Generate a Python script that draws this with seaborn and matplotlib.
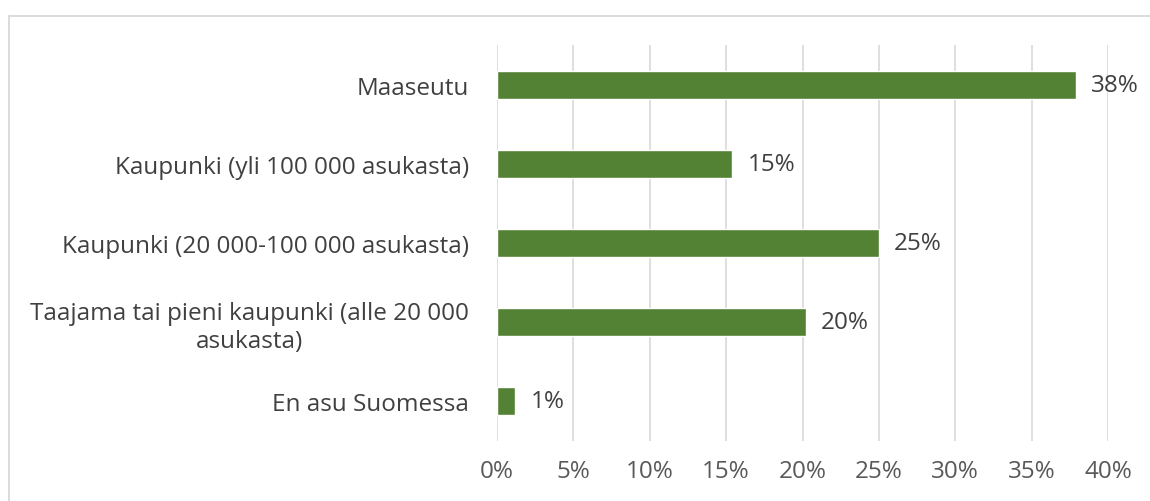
import matplotlib.pyplot as plt
import matplotlib.patches as mpatches
import seaborn as sns
import pandas as pd

sns.set_theme(style="white")
plt.rcParams['font.family'] = ['Open Sans', 'DejaVu Sans']

categories = ['Maaseutu',
              'Kaupunki (yli 100 000 asukasta)',
              'Kaupunki (20 000-100 000 asukasta)',
              'Taajama tai pieni kaupunki (alle 20 000\nasukasta)',
              'En asu Suomessa']
values = [37.9, 15.4, 25.0, 20.2, 1.2]
value_labels = ['38%', '15%', '25%', '20%', '1%']
xticks = [0, 5, 10, 15, 20, 25, 30, 35, 40]

df = pd.DataFrame({'cat': categories, 'val': values})

fig = plt.figure(figsize=(11.5, 5.02), dpi=100)
ax = fig.add_axes([0.4322, 0.1205, 0.9635 - 0.4322, 0.9074 - 0.1205])

# light frame of the chart area (only top/left visible in the reference)
fig.patches.append(mpatches.Rectangle((9 / 1150, -0.05), 1.2, 1 - 17 / 502 + 0.05,
                                      transform=fig.transFigure, fill=False,
                                      edgecolor='#d9d9d9', linewidth=1.3))

sns.barplot(data=df, x='val', y='cat', color='#548235', saturation=1,
            width=0.36, ax=ax, zorder=3)

fs = 17.5
ax.set_xlim(0, 40)
ax.set_xticks(xticks)
ax.set_xticklabels([f'{t}%' for t in xticks], fontsize=fs, color='#595959')
ax.tick_params(axis='x', length=0, pad=13)
ax.tick_params(axis='y', length=0, pad=20)
for lbl in ax.get_yticklabels():
    lbl.set_fontsize(fs)
    lbl.set_color('#404040')
    lbl.set_multialignment('center')
ax.set_xlabel('')
ax.set_ylabel('')
ax.grid(axis='x', color='#d9d9d9', linewidth=1.2, zorder=0)
for s in ax.spines.values():
    s.set_visible(False)

for i, (v, t) in enumerate(zip(values, value_labels)):
    ax.annotate(t, (v, i), xytext=(11, 0), textcoords='offset points',
                va='center', ha='left', fontsize=fs, color='#404040')

fig.savefig('out.png', dpi=100, facecolor='white')
